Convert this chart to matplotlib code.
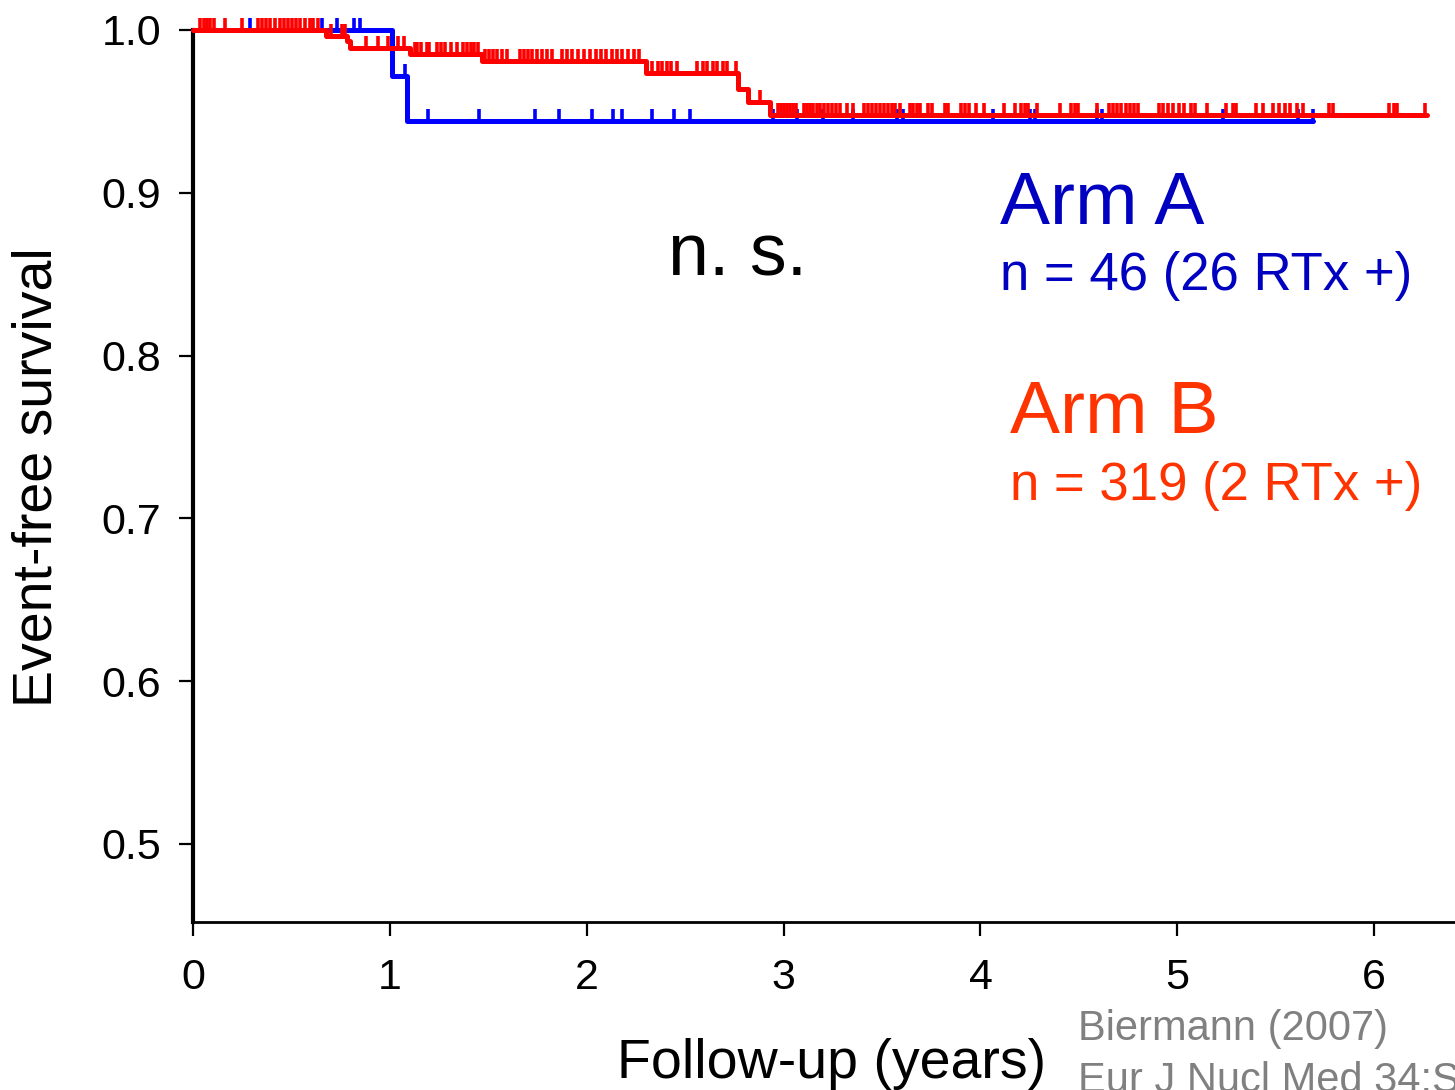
import numpy as np
import matplotlib
matplotlib.use("Agg")
import matplotlib.pyplot as plt

plt.rcParams['font.family'] = ['Liberation Sans', 'DejaVu Sans']

# ---- data ----
blue_step_t = [0.0, 1.01, 1.087, 5.69]
blue_step_s = [1.0, 0.972, 0.944, 0.944]
blue_cens = [0.29, 0.655, 0.73, 0.82, 0.85, 1.075, 1.194, 1.453, 1.738, 1.860, 2.027,
             2.134, 2.180, 2.332, 2.444, 2.525, 2.947, 3.069, 3.201, 3.354, 3.577,
             3.608, 4.065, 4.253, 4.278, 4.593, 4.619, 5.234, 5.615, 5.691]

red_step_t = [0.0, 0.676, 0.785, 0.80, 1.10, 1.47, 2.30, 2.77, 2.82, 2.93, 6.27]
red_step_s = [1.0, 0.9966, 0.993, 0.989, 0.985, 0.981, 0.9734, 0.964, 0.956, 0.948, 0.948]
red_cens = [0.036, 0.056, 0.071, 0.086, 0.107, 0.163, 0.249, 0.330, 0.351, 0.371, 0.391,
            0.417, 0.442, 0.462, 0.483, 0.503, 0.523, 0.544, 0.569, 0.594, 0.610, 0.635,
            0.70, 0.757, 0.772,
            0.88, 0.94, 0.99, 1.04, 1.07,
            1.13, 1.14, 1.16, 1.19, 1.20, 1.24, 1.26, 1.28, 1.31, 1.34, 1.37, 1.39, 1.41,
            1.43, 1.45,
            1.484, 1.504, 1.524, 1.545, 1.570, 1.596, 1.662, 1.682, 1.702, 1.723, 1.748,
            1.773, 1.799, 1.824, 1.875, 1.900, 1.926, 1.956, 1.987, 2.017, 2.048, 2.073,
            2.099, 2.129, 2.155, 2.180, 2.210, 2.241, 2.266,
            2.33, 2.36, 2.38, 2.41, 2.43, 2.46, 2.56, 2.59, 2.61, 2.64, 2.66, 2.69, 2.71, 2.76,
            2.88,
            2.973, 2.988, 3.003, 3.018, 3.034, 3.049, 3.064, 3.105, 3.120, 3.135, 3.150,
            3.171, 3.186, 3.206, 3.227, 3.247, 3.267, 3.288, 3.323, 3.354, 3.410, 3.430,
            3.450, 3.471, 3.491, 3.511, 3.532, 3.552, 3.567, 3.593, 3.643, 3.659, 3.679,
            3.694, 3.735, 3.755, 3.821, 3.836, 3.902, 3.923, 3.943, 3.979, 4.019, 4.121,
            4.177, 4.207, 4.228, 4.243, 4.289, 4.405, 4.461, 4.482, 4.497, 4.593, 4.654,
            4.675, 4.695, 4.715, 4.741, 4.761, 4.782, 4.802, 4.909, 4.929, 4.954, 4.980,
            5.010, 5.036, 5.071, 5.091, 5.152, 5.249, 5.285, 5.300, 5.401, 5.437, 5.488,
            5.518, 5.549, 5.574, 5.605, 5.640, 5.772, 5.788, 6.077, 6.098, 6.113, 6.260]

x_ticks = [0, 1, 2, 3, 4, 5, 6]
y_ticks = [0.5, 0.6, 0.7, 0.8, 0.9, 1.0]
y_tick_labels = ["0.5", "0.6", "0.7", "0.8", "0.9", "1.0"]


def surv_at(t_steps, s_steps, t):
    idx = np.searchsorted(np.asarray(t_steps), np.asarray(t), side='right') - 1
    return np.asarray(s_steps)[idx]


fig = plt.figure(figsize=(14.55, 10.9), dpi=100)
ax = fig.add_axes([0.1326, 0.1541, 0.8674, 0.8184])

BLUE = "#0000FF"
RED = "#FF0000"

ax.step(blue_step_t, blue_step_s, where='post', color=BLUE, lw=3.6,
        solid_capstyle='round', solid_joinstyle='round', clip_on=False, zorder=3)
ax.plot(blue_cens, surv_at(blue_step_t, blue_step_s, blue_cens), linestyle='none',
        marker=2, markersize=9, markeredgewidth=2.6, color=BLUE, clip_on=False, zorder=3)

ax.step(red_step_t, red_step_s, where='post', color=RED, lw=3.6,
        solid_capstyle='round', solid_joinstyle='round', clip_on=False, zorder=4)
ax.plot(red_cens, surv_at(red_step_t, red_step_s, red_cens), linestyle='none',
        marker=2, markersize=9, markeredgewidth=2.6, color=RED, clip_on=False, zorder=4)

ax.set_xlim(0, 6.41)
ax.set_ylim(0.452, 1.0)
ax.set_xticks(x_ticks)
ax.set_yticks(y_ticks)
ax.set_yticklabels(y_tick_labels)
ax.tick_params(axis='both', labelsize=31, width=1.6, length=10, direction='out', color='black')
ax.tick_params(axis='y', pad=13)
ax.tick_params(axis='x', pad=16)
for side in ['top', 'right']:
    ax.spines[side].set_visible(False)
ax.spines['left'].set_linewidth(3.0)
ax.spines['bottom'].set_linewidth(2.0)

fig.text(38 / 1455, 0.5624, "Event-free survival", rotation=90, ha='center', va='center',
         fontsize=40)
fig.text(832 / 1455, 0.011, "Follow-up (years)", ha='center', va='baseline', fontsize=40)

fig.text(668 / 1455, 0.7477, "n. s.", ha='left', va='baseline', fontsize=53, color='black')
fig.text(1000 / 1455, 0.7945, "Arm A", ha='left', va='baseline', fontsize=54, color='#0000C0')
fig.text(1000 / 1455, 0.734, "n = 46 (26 RTx +)", ha='left', va='baseline', fontsize=38,
         color='#0000C0')
fig.text(1010 / 1455, 0.6028, "Arm B", ha='left', va='baseline', fontsize=54, color='#FF3300')
fig.text(1010 / 1455, 0.5413, "n = 319 (2 RTx +)", ha='left', va='baseline', fontsize=38,
         color='#FF3300')

fig.text(1078 / 1455, 0.046, "Biermann (2007)", ha='left', va='baseline', fontsize=30,
         color='#808080')
fig.text(1078 / 1455, -0.002, "Eur J Nucl Med 34:S", ha='left', va='baseline', fontsize=30,
         color='#808080')

fig.savefig("out.png", dpi=100)
